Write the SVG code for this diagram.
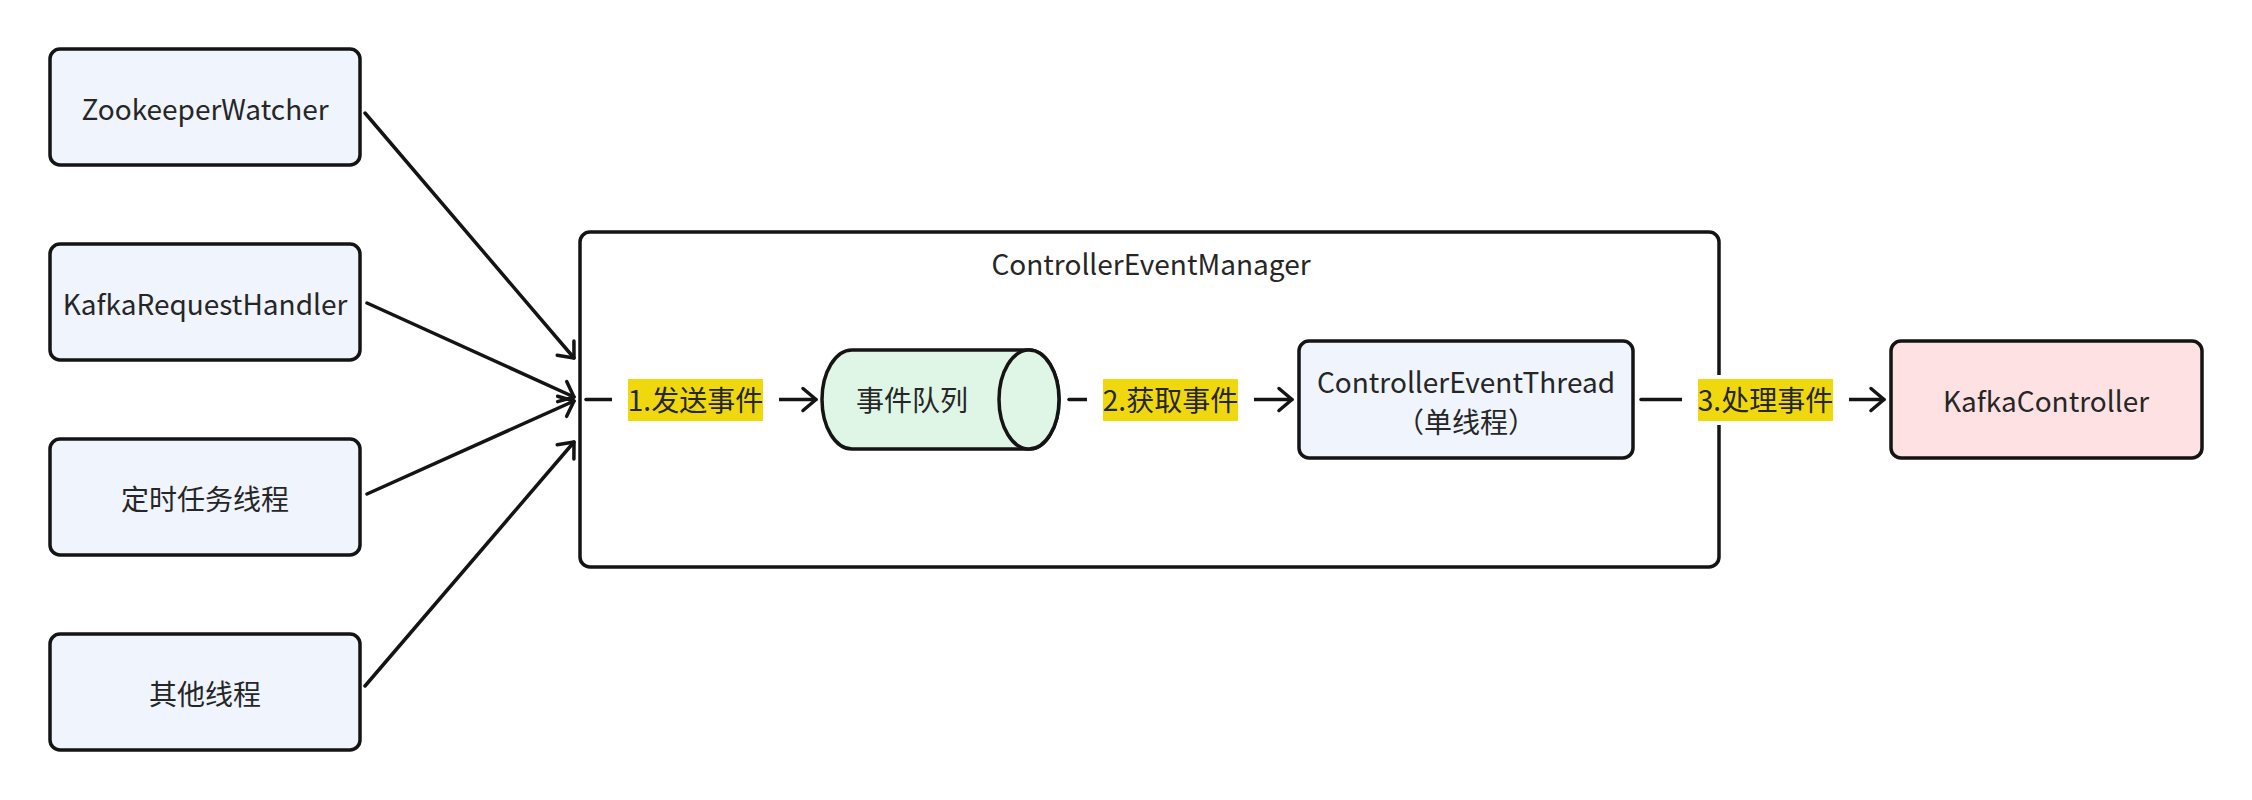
<svg xmlns="http://www.w3.org/2000/svg" width="2252" height="800" viewBox="0 0 2252 800">
<style>
.box{stroke:#141414;stroke-width:3.5;}
.src{fill:#EFF4FD;}
.t{font-family:"Noto Sans CJK SC","Noto Sans",sans-serif;font-size:28px;fill:#262626;text-anchor:middle;}
.conn{fill:none;stroke:#141414;stroke-width:3.5;stroke-linecap:round;}
.hl{fill:#F0D80E;}
</style>
<defs>
<marker id="arr" markerUnits="userSpaceOnUse" markerWidth="22" markerHeight="30" refX="16" refY="14" orient="auto">
<path d="M3,3 L16,14 L3,25" fill="none" stroke="#141414" stroke-width="3.5" stroke-linecap="round" stroke-linejoin="round"/>
</marker>
</defs>
<rect width="2252" height="800" fill="#FFFFFF"/>

<g id="container">
<rect class="box" x="580" y="232" width="1139" height="335" rx="10" fill="#FFFFFF"/>
<text class="t" x="1151" y="275">ControllerEventManager</text>
</g>

<g id="zookeeperWatcher">
<rect class="box src" x="50" y="49" width="310" height="116" rx="10"/>
<text class="t" x="205" y="120">ZookeeperWatcher</text>
</g>
<g id="kafkaRequestHandler">
<rect class="box src" x="50" y="244" width="310" height="116" rx="10"/>
<text class="t" x="205" y="315">KafkaRequestHandler</text>
</g>
<g id="timerThread">
<rect class="box src" x="50" y="439" width="310" height="116" rx="10"/>
<text class="t" x="205" y="510">定时任务线程</text>
</g>
<g id="otherThread">
<rect class="box src" x="50" y="634" width="310" height="116" rx="10"/>
<text class="t" x="205" y="705">其他线程</text>
</g>

<g id="eventQueue">
<path class="box" fill="#DFF5E6" d="M852,350 L1029,350 A30,49.5 0 0 1 1029,449 L852,449 A30,49.5 0 0 1 852,350 Z"/>
<ellipse class="box" fill="#DFF5E6" cx="1029" cy="399.5" rx="30" ry="49.5"/>
<text class="t" x="912" y="411">事件队列</text>
</g>

<g id="controllerEventThread">
<rect class="box src" x="1299" y="341" width="334" height="117" rx="10"/>
<text class="t" x="1466" y="393">ControllerEventThread</text>
<text class="t" x="1466" y="433">（单线程）</text>
</g>

<g id="kafkaController">
<rect class="box" fill="#FEE2E3" x="1891" y="341" width="311" height="117" rx="10"/>
<text class="t" x="2046" y="412">KafkaController</text>
</g>

<g id="connectors">
<path class="conn" d="M365,113 L574,358" marker-end="url(#arr)"/>
<path class="conn" d="M367,303 L574,397" marker-end="url(#arr)"/>
<path class="conn" d="M367,494 L574,401" marker-end="url(#arr)"/>
<path class="conn" d="M365,686 L574,442" marker-end="url(#arr)"/>

<path class="conn" d="M586,399.5 L816,399.5" marker-end="url(#arr)"/>
<rect x="612" y="375" width="167" height="50" fill="#FFFFFF"/>
<rect class="hl" x="628" y="379" width="135" height="42"/>
<text class="t" x="695.5" y="411">1.发送事件</text>

<path class="conn" d="M1069,399.5 L1292,399.5" marker-end="url(#arr)"/>
<rect x="1087" y="375" width="167" height="50" fill="#FFFFFF"/>
<rect class="hl" x="1103" y="379" width="135" height="42"/>
<text class="t" x="1170.5" y="411">2.获取事件</text>

<path class="conn" d="M1641,399.5 L1884,399.5" marker-end="url(#arr)"/>
<rect x="1682" y="375" width="167" height="50" fill="#FFFFFF"/>
<rect class="hl" x="1698" y="379" width="135" height="42"/>
<text class="t" x="1765.5" y="411">3.处理事件</text>
</g>
</svg>
